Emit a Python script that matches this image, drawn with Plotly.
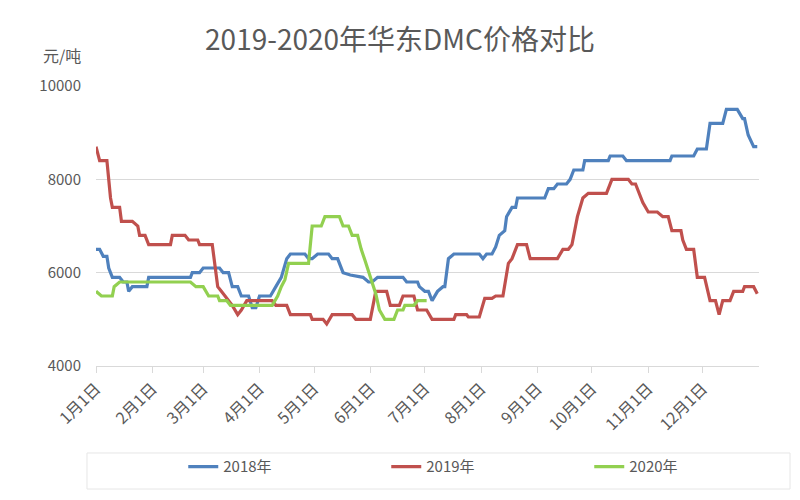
import pandas as pd
import plotly.graph_objects as go

# Day offsets from Jan 1 and prices (元/吨)
days_2018 = [0, 2, 4, 6, 7, 9, 13, 15, 17, 18, 20, 28, 29, 52, 53, 57, 59, 68, 70, 73, 75, 78, 80, 84, 86, 88,
             90, 96, 99, 102, 105, 107, 115, 117, 119, 122, 128, 130, 133, 136, 140, 147, 150, 152, 155, 169,
             171, 177, 178, 181, 183, 185, 188, 191, 192, 194, 197, 211, 213, 215, 218, 220, 222, 225, 226,
             229, 231, 232, 247, 249, 252, 254, 259, 261, 263, 268, 269, 282, 283, 290, 292, 316, 317, 329,
             331, 336, 338, 345, 347, 353, 356, 357, 359, 362, 364]
price_2018 = [6500, 6500, 6350, 6350, 6100, 5900, 5900, 5800, 5800, 5600, 5700, 5700, 5900, 5900, 6000, 6000,
              6100, 6100, 6000, 6000, 5700, 5700, 5500, 5500, 5250, 5250, 5500, 5500, 5700, 5900, 6300, 6400,
              6400, 6300, 6300, 6400, 6400, 6300, 6300, 6000, 5950, 5900, 5800, 5800, 5900, 5900, 5800, 5800,
              5700, 5600, 5600, 5400, 5600, 5700, 5700, 6300, 6400, 6400, 6300, 6400, 6400, 6550, 6800, 6900,
              7200, 7400, 7400, 7600, 7600, 7800, 7800, 7900, 7900, 8000, 8200, 8200, 8400, 8400, 8500, 8500,
              8400, 8400, 8500, 8500, 8650, 8650, 9200, 9200, 9500, 9500, 9300, 9300, 8950, 8700, 8700]

days_2019 = [0, 2, 6, 8, 9, 13, 14, 20, 23, 24, 27, 29, 41, 42, 49, 51, 56, 57, 64, 67, 69, 71, 75, 78, 80, 83,
             97, 99, 105, 107, 118, 119, 125, 127, 130, 141, 143, 151, 154, 160, 162, 167, 169, 175, 177, 182,
             185, 197, 198, 204, 205, 211, 214, 218, 220, 224, 227, 229, 232, 237, 239, 254, 257, 260, 262,
             264, 265, 268, 271, 281, 284, 293, 295, 297, 300, 301, 304, 309, 312, 315, 317, 322, 323, 325,
             329, 331, 335, 338, 341, 343, 345, 349, 351, 356, 357, 362, 364]
price_2019 = [8700, 8400, 8400, 7600, 7400, 7400, 7100, 7100, 7000, 6800, 6800, 6600, 6600, 6800, 6800, 6700,
              6700, 6600, 6600, 5700, 5600, 5500, 5300, 5100, 5200, 5400, 5400, 5300, 5300, 5100, 5100, 5000,
              5000, 4900, 5100, 5100, 5000, 5000, 5600, 5600, 5300, 5300, 5500, 5500, 5200, 5200, 5000, 5000,
              5100, 5100, 5050, 5050, 5450, 5450, 5500, 5500, 6200, 6300, 6600, 6600, 6300, 6300, 6500, 6500,
              6600, 7000, 7200, 7600, 7700, 7700, 8000, 8000, 7900, 7900, 7600, 7500, 7300, 7300, 7200, 7200,
              6900, 6900, 6700, 6500, 6500, 5900, 5900, 5400, 5400, 5100, 5400, 5400, 5600, 5600, 5700, 5700,
              5550]

days_2020 = [0, 3, 9, 10, 13, 52, 55, 59, 62, 67, 68, 72, 74, 97, 100, 102, 104, 106, 117, 119, 124, 126, 134,
             136, 139, 141, 144, 146, 148, 151, 154, 156, 159, 164, 166, 169, 170, 175, 177, 182]
price_2020 = [5600, 5500, 5500, 5700, 5800, 5800, 5700, 5700, 5500, 5500, 5400, 5400, 5300, 5300, 5500, 5700,
              5850, 6200, 6200, 7000, 7000, 7200, 7200, 7000, 7000, 6800, 6800, 6500, 6270, 5900, 5550, 5200,
              5000, 5000, 5200, 5200, 5300, 5300, 5400, 5400]

series_names = ["2018年", "2019年", "2020年"]
series_colors = ["#4F81BD", "#C0504D", "#92D050"]

base = pd.Timestamp("2018-01-01")


def to_dates(days):
    return [base + pd.Timedelta(days=d) for d in days]


fig = go.Figure()
for name, color, d, p in zip(series_names, series_colors,
                             [days_2018, days_2019, days_2020],
                             [price_2018, price_2019, price_2020]):
    fig.add_trace(go.Scatter(x=to_dates(d), y=p, mode="lines", name=name,
                             line=dict(color=color, width=3.2)))

font_family = "Noto Sans CJK SC, Microsoft YaHei, sans-serif"
text_color = "#595959"

fig.update_layout(
    width=800, height=500,
    margin=dict(l=88, r=49, t=78, b=142),
    paper_bgcolor="white", plot_bgcolor="white",
    font=dict(family=font_family, color=text_color, size=14),
    title=dict(text="2019-2020年华东DMC价格对比", x=0.49, xanchor="center",
               y=0.936, yanchor="middle", yref="container",
               font=dict(size=28, color=text_color, family=font_family)),
    showlegend=True,
    legend=dict(orientation="h", x=0.1316, xanchor="left", y=-0.36, yanchor="middle",
                entrywidth=158, entrywidthmode="pixels",
                font=dict(size=15, color=text_color), bgcolor="rgba(0,0,0,0)"),
    xaxis=dict(
        type="date", automargin=False,
        range=[base, base + pd.Timedelta(days=364, hours=23)],
        tick0=base, dtick="M1", tickformat="%-m月%-d日",
        tickangle=-45, ticks="outside", ticklen=6, tickcolor="#d9d9d9",
        showline=True, linecolor="#d9d9d9", linewidth=1,
        showgrid=False, zeroline=False,
        tickfont=dict(size=16, color=text_color),
    ),
    yaxis=dict(
        range=[4000, 10000], dtick=2000, tick0=4000, tickformat="d", automargin=False,
        showgrid=True, gridcolor="#d9d9d9", gridwidth=1,
        zeroline=False, showline=False, ticks="",
        ticklabelstandoff=14,
        tickfont=dict(size=15, color=text_color),
    ),
    shapes=[dict(type="rect", xref="paper", yref="paper",
                 x0=-0.0136, x1=1.0468, y0=-0.3107, y1=-0.4393,
                 line=dict(color="#e6e6e6", width=1), fillcolor="rgba(0,0,0,0)")],
    annotations=[dict(text="元/吨", xref="paper", yref="paper", x=-0.051, y=1.111,
                      xanchor="center", yanchor="middle", showarrow=False,
                      font=dict(size=16, color=text_color))],
)

fig.write_html("out.html")
